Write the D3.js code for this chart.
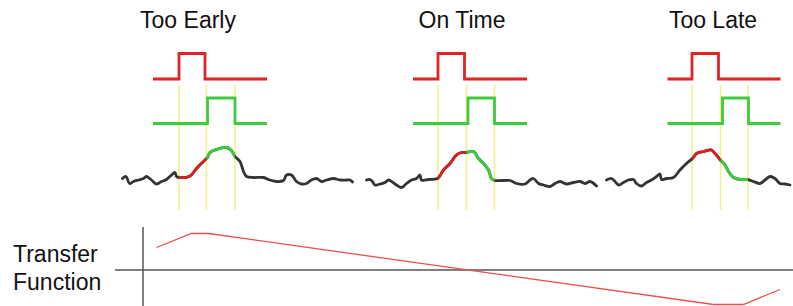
<!DOCTYPE html>
<html>
<head>
<meta charset="utf-8">
<script src="https://cdn.jsdelivr.net/npm/d3@7"></script>
<style>
    body { margin: 0; background: #fff; }
    text { font-family: "Liberation Sans", Arial, sans-serif; }
</style>
</head>
<body>
<script>
// Early-late gate timing sketch: three cases plus the transfer function.

var width = 793,
    height = 306;

// ---- data -----------------------------------------------------------------
var caseTitles = ["Too Early", "On Time", "Too Late"];
var titleTime = [188, 462, 713];

// gate pulses: [start, rise, fall, end] in time units
var redGates = [[153, 179, 205, 267], [413, 438, 464.5, 527],
                [667.5, 692, 718.5, 780.5]];
var greenGates = [[153, 207.5, 235, 267], [413, 468, 494.5, 527],
                  [667.5, 722.5, 748.5, 780.5]];

// yellow markers (early edge, mid, late edge)
var markers = [[179, 206.5, 235], [438, 466.5, 494.5], [692, 720.5, 748]];

// received signal, [time, amplitude]
var signalEarly = [
    [122.5, 1.5], [126, 3.5], [129.5, -3.5], [133.5, -1.5], [138.5, 0],
    [143.5, 1.5], [146.5, 3.5], [151.5, 0], [156.5, -4], [161.5, -1.5],
    [166.5, 0.5], [171.5, 5], [175, 7.5], [176.5, 3.5], [179, 2.5],
    [190, 4], [196.5, 11.5], [203.5, 18.5], [207.5, 22.5], [210, 27.5],
    [216.5, 30.5], [226.5, 32.5], [231.5, 29.5], [235, 23.5], [240, 18.5],
    [243.5, 8.5], [246.5, 3.5], [253.5, 2.5], [263.5, 2.5], [270, 0],
    [276.5, -1.5], [283.5, -0.5], [286.5, 5], [291.5, 5], [296.5, -1.5],
    [301.5, -4], [306.5, -3.5], [311.5, 0], [316.5, 1.5], [321.5, -1.5],
    [326.5, 0], [333.5, 1.5], [340, 0], [347, 0], [350, 0], [352.5, -2]
];
var signalOnTime = [
    [366.5, 0], [370, 0.5], [372.5, -1.5], [375, -5], [380, -4],
    [385, -2.5], [388.5, 0], [391.5, -1.5], [396.5, -5], [401.5, -7.5],
    [406.5, -3.5], [411.5, 0], [416.5, 1.5], [420, 5], [421.5, 0],
    [428.5, 0.5], [437.5, 1.5], [443.5, 10], [450, 16.5], [456.5, 25],
    [461.5, 27.5], [466, 27.5], [473.5, 28.5], [478.5, 21.5], [483.5, 16.5],
    [488.5, 10], [491.5, 1.5], [495, -0.5], [510, -0.5], [516.5, -3.5],
    [525, -4], [530, 0], [533.5, 1.5], [538.5, -3.5], [543.5, -5],
    [550, -6.5], [555, -3.5], [560, -1.5], [566.5, -4], [573.5, -2.5],
    [580, -1.5], [585, -3.5], [590, -1.5], [596.5, -6]
];
var signalLate = [
    [606.5, 0], [611.5, 1.5], [615, -1.5], [618.5, -5], [623.5, -2.5],
    [628.5, 0], [633.5, 0.5], [636.5, -3.5], [641.5, -6], [646.5, -2.5],
    [651.5, 0], [656.5, 3.5], [660, 6], [661.5, 0.5], [666.5, 1.5],
    [673.5, 2.5], [680, 10], [686.5, 16.5], [692.5, 21.5], [696.5, 26.5],
    [703.5, 28.5], [711.5, 30], [715, 26.5], [720, 20.5], [725, 15],
    [728.5, 8.5], [733.5, 2.5], [740, 0.5], [747.5, 0.5], [753.5, -1.5],
    [760, -3.5], [765, 0], [770, 3.5], [775, 1.5], [780, -3.5],
    [785, -4], [790, -5]
];
var signals = [signalEarly, signalOnTime, signalLate];

// transfer function (timing error -> discriminator output)
var tfTime = [156.5, 191.5, 208.5, 713.5, 743.5, 780];
var tfValue = [22.5, 36.5, 36.5, -34.5, -34.5, -19.5];

// ---- scales ---------------------------------------------------------------
var xScale = d3.scaleLinear().domain([0, 793]).range([0, 793]);
var redY = d3.scaleLinear().domain([0, 1]).range([79, 53.5]);
var greenY = d3.scaleLinear().domain([0, 1]).range([123.5, 98]);
var sigY = d3.scaleLinear().domain([0, 40]).range([180, 140]);
var tfY = d3.scaleLinear().domain([-40, 40]).range([310, 230]);

var svg = d3.select("body").append("svg")
    .attr("width", width)
    .attr("height", height);

var defs = svg.append("defs");

function pulsePoints(g) {
    return [[g[0], 0], [g[1], 0], [g[1], 1], [g[2], 1], [g[2], 0], [g[3], 0]];
}

var pulseLine = function (yScale) {
    return d3.line()
        .x(function (d) { return xScale(d[0]); })
        .y(function (d) { return yScale(d[1]); });
};

// hand drawn look: smooth the trace a little
var sigLine = d3.line()
    .x(function (d) { return xScale(d[0]); })
    .y(function (d) { return sigY(d[1]); })
    .curve(d3.curveCatmullRom.alpha(0.5));

// yellow markers go underneath everything
markers.forEach(function (m) {
    svg.selectAll(null)
        .data(m)
        .enter()
        .append("line")
        .attr("x1", function (d) { return xScale(d); })
        .attr("x2", function (d) { return xScale(d); })
        .attr("y1", 85)
        .attr("y2", 210)
        .attr("stroke", "#f5ef86")
        .attr("stroke-width", 1.5);
});

caseTitles.forEach(function (t, i) {
    svg.append("text")
        .attr("x", xScale(titleTime[i]))
        .attr("y", 28)
        .attr("text-anchor", "middle")
        .attr("font-size", "23px")
        .attr("fill", "#111")
        .text(t);

    svg.append("path")
        .attr("d", pulseLine(redY)(pulsePoints(redGates[i])))
        .attr("fill", "none")
        .attr("stroke", "#e02424")
        .attr("stroke-width", 2.8);

    svg.append("path")
        .attr("d", pulseLine(greenY)(pulsePoints(greenGates[i])))
        .attr("fill", "none")
        .attr("stroke", "#3ccc3c")
        .attr("stroke-width", 2.8);

    // black trace, then red / green parts clipped to the gate windows
    svg.append("path")
        .attr("d", sigLine(signals[i]))
        .attr("fill", "none")
        .attr("stroke", "#333")
        .attr("stroke-width", 2.8)
        .attr("stroke-linejoin", "round")
        .attr("stroke-linecap", "round");

    var m = markers[i];
    [["red", m[0], m[1], "#d92020"], ["green", m[1], m[2], "#3ccc3c"]]
        .forEach(function (c) {
            var id = "clip-" + c[0] + "-" + i;
            defs.append("clipPath").attr("id", id)
                .append("rect")
                .attr("x", xScale(c[1]))
                .attr("y", 120)
                .attr("width", xScale(c[2]) - xScale(c[1]))
                .attr("height", 80);
            svg.append("path")
                .attr("d", sigLine(signals[i]))
                .attr("clip-path", "url(#" + id + ")")
                .attr("fill", "none")
                .attr("stroke", c[3])
                .attr("stroke-width", 2.8)
                .attr("stroke-linejoin", "round");
        });
});

// ---- transfer function ----------------------------------------------------
svg.append("line")
    .attr("x1", xScale(143))
    .attr("x2", xScale(143))
    .attr("y1", 227)
    .attr("y2", height)
    .attr("stroke", "#555")
    .attr("stroke-width", 1.5);

svg.append("line")
    .attr("x1", xScale(115))
    .attr("x2", width)
    .attr("y1", tfY(0))
    .attr("y2", tfY(0))
    .attr("stroke", "#555")
    .attr("stroke-width", 1.5);

var tfLine = d3.line()
    .x(function (d) { return xScale(d); })
    .y(function (d, i) { return tfY(tfValue[i]); });

svg.append("path")
    .attr("d", tfLine(tfTime))
    .attr("fill", "none")
    .attr("stroke", "#e85050")
    .attr("stroke-width", 1.3);

svg.append("text")
    .attr("x", 13)
    .attr("y", 261.5)
    .attr("font-size", "23px")
    .attr("fill", "#111")
    .text("Transfer");

svg.append("text")
    .attr("x", 13)
    .attr("y", 289.5)
    .attr("font-size", "23px")
    .attr("fill", "#111")
    .text("Function");
</script>
</body>
</html>
